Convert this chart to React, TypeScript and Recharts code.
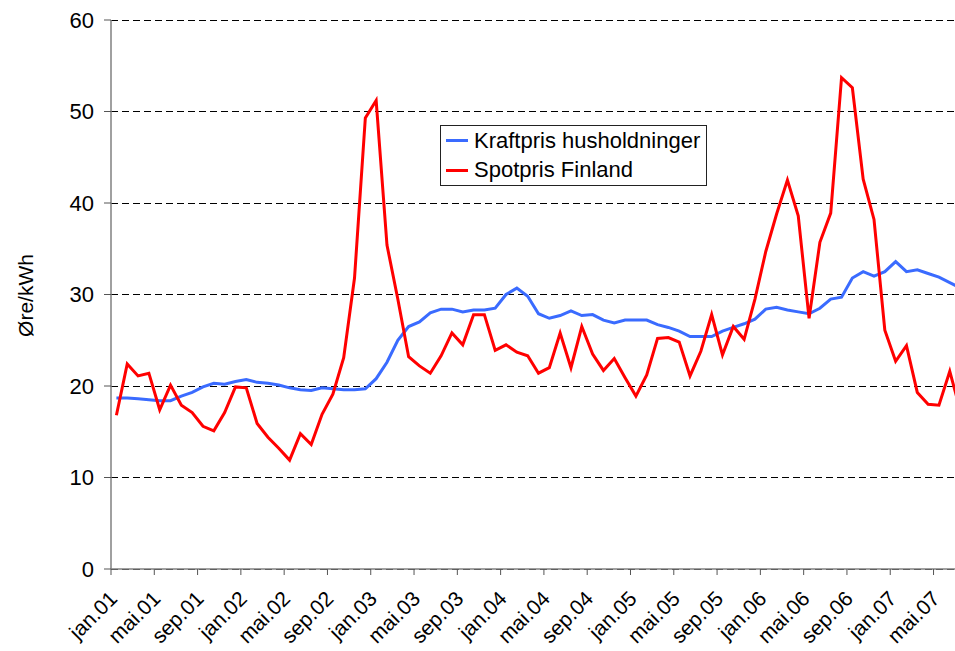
import React from 'react';
import { LineChart, Line, XAxis, YAxis, CartesianGrid, Legend } from 'recharts';

const categories = [
  'jan.01','feb.01','mar.01','apr.01','mai.01','jun.01','jul.01','aug.01','sep.01','okt.01','nov.01','des.01',
  'jan.02','feb.02','mar.02','apr.02','mai.02','jun.02','jul.02','aug.02','sep.02','okt.02','nov.02','des.02',
  'jan.03','feb.03','mar.03','apr.03','mai.03','jun.03','jul.03','aug.03','sep.03','okt.03','nov.03','des.03',
  'jan.04','feb.04','mar.04','apr.04','mai.04','jun.04','jul.04','aug.04','sep.04','okt.04','nov.04','des.04',
  'jan.05','feb.05','mar.05','apr.05','mai.05','jun.05','jul.05','aug.05','sep.05','okt.05','nov.05','des.05',
  'jan.06','feb.06','mar.06','apr.06','mai.06','jun.06','jul.06','aug.06','sep.06','okt.06','nov.06','des.06',
  'jan.07','feb.07','mar.07','apr.07','mai.07','jun.07','jul.07',
];

const kraftprisHusholdninger = [
  18.7, 18.7, 18.6, 18.5, 18.4, 18.4, 18.9, 19.3, 19.9, 20.3, 20.2, 20.5,
  20.7, 20.4, 20.3, 20.1, 19.8, 19.6, 19.5, 19.8, 19.7, 19.6, 19.6, 19.7,
  20.8, 22.6, 25.0, 26.5, 27.0, 28.0, 28.4, 28.4, 28.1, 28.3, 28.3, 28.5,
  30.0, 30.7, 29.8, 27.9, 27.4, 27.7, 28.2, 27.7, 27.8, 27.2, 26.9, 27.2,
  27.2, 27.2, 26.7, 26.4, 26.0, 25.4, 25.4, 25.4, 26.0, 26.4, 26.8, 27.3,
  28.4, 28.6, 28.3, 28.1, 27.9, 28.5, 29.5, 29.7, 31.8, 32.5, 32.0, 32.5,
  33.6, 32.5, 32.7, 32.3, 31.9, 31.3, 30.7,
];

const spotprisFinland = [
  16.8, 22.4, 21.1, 21.4, 17.4, 20.1, 17.9, 17.1, 15.6, 15.1, 17.1, 19.9,
  19.8, 15.9, 14.4, 13.2, 11.9, 14.8, 13.6, 16.9, 19.1, 23.1, 31.8, 49.3,
  51.2, 35.4, 29.5, 23.2, 22.2, 21.4, 23.3, 25.8, 24.5, 27.8, 27.8, 23.9,
  24.5, 23.7, 23.3, 21.4, 22.0, 25.8, 22.0, 26.5, 23.5, 21.7, 23.0, 20.9,
  18.9, 21.2, 25.2, 25.3, 24.8, 21.1, 23.8, 27.8, 23.4, 26.5, 25.1, 29.5,
  34.7, 38.8, 42.5, 38.6, 27.4, 35.7, 38.9, 53.7, 52.6, 42.6, 38.2, 26.1,
  22.7, 24.4, 19.3, 18.0, 17.9, 21.6, 17.2,
];

const yTicks = [0, 10, 20, 30, 40, 50, 60];
// tick marks sit on category boundaries, one every 4 months
const xTickMarks = [-0.5, 3.5, 7.5, 11.5, 15.5, 19.5, 23.5, 27.5, 31.5, 35.5, 39.5, 43.5, 47.5, 51.5, 55.5, 59.5, 63.5, 67.5, 71.5, 75.5];

const data = categories.map((label, i) => ({
  i,
  label,
  kraft: kraftprisHusholdninger[i],
  spot: spotprisFinland[i],
}));

const FONT = '"Liberation Sans", Arial, sans-serif';
const N = categories.length;

const XTick = (props: any) => {
  const { x, y, payload, width } = props;
  const axisWidth = typeof width === 'number' ? width : 855;
  const half = axisWidth / (2 * N);
  const idx = Math.round(payload.value + 0.5);
  const label = categories[idx];
  if (!label) return null;
  const ax = x + half + 2;
  const ay = y + 23;
  return (
    <text
      x={ax}
      y={ay}
      transform={`rotate(-45 ${ax} ${ay})`}
      textAnchor="end"
      fontFamily={FONT}
      fontSize={21}
      fill="#000"
    >
      {label}
    </text>
  );
};

const YLabel = (props: any) => {
  const vb = props.viewBox || { x: 0, y: 20, width: 111, height: 549 };
  const cx = vb.x + 25;
  const cy = vb.y + vb.height / 2 + 1;
  return (
    <text
      x={cx}
      y={cy}
      transform={`rotate(-90 ${cx} ${cy})`}
      textAnchor="middle"
      dominantBaseline="central"
      fontFamily={FONT}
      fontSize={21}
      fill="#000"
    >
      Øre/kWh
    </text>
  );
};

const renderLegend = (props: any) => {
  const { payload } = props;
  return (
    <div
      style={{
        border: '1px solid #222',
        background: '#fff',
        padding: '0 0 0 5px',
        width: 267,
        height: 61,
        boxSizing: 'border-box',
        fontFamily: FONT,
        fontSize: 22,
        color: '#000',
      }}
    >
      {(payload || []).map((entry: any) => (
        <div key={entry.value} style={{ display: 'flex', alignItems: 'center', height: 29.5, whiteSpace: 'nowrap' }}>
          <span style={{ display: 'inline-block', width: 22, height: 3, background: entry.color, marginRight: 6 }} />
          <span>{entry.value}</span>
        </div>
      ))}
    </div>
  );
};

export default function App() {
  return (
    <div style={{ position: 'absolute', left: 0, top: 0, width: 955, height: 651, overflow: 'hidden', background: '#fff' }}>
      <LineChart width={966} height={651} data={data} margin={{ top: 20, right: 0, bottom: 0, left: 0 }}>
        <CartesianGrid horizontal vertical={false} stroke="#000" strokeDasharray="7 4" shapeRendering="crispEdges" />
        <XAxis
          dataKey="i"
          type="number"
          domain={[-0.5, N - 0.5]}
          allowDataOverflow
          ticks={xTickMarks}
          interval={0}
          height={82}
          tick={<XTick />}
          tickSize={6}
          axisLine={{ stroke: '#808080', strokeWidth: 1.5 }}
          tickLine={{ stroke: '#555' }}
        />
        <YAxis
          domain={[0, 60]}
          ticks={yTicks}
          interval={0}
          width={111}
          tickSize={7}
          tickMargin={10}
          axisLine={{ stroke: '#808080', strokeWidth: 1.5 }}
          tickLine={{ stroke: '#555' }}
          tick={{ fontFamily: FONT, fontSize: 22, fill: '#000' }}
          label={<YLabel />}
        />
        <Legend
          layout="vertical"
          align="center"
          verticalAlign="middle"
          content={renderLegend}
          wrapperStyle={{ left: 440, top: 125, width: 267 }}
        />
        <Line
          type="linear"
          dataKey="kraft"
          name="Kraftpris husholdninger"
          stroke="#3a6bff"
          strokeWidth={3}
          dot={false}
          isAnimationActive={false}
        />
        <Line
          type="linear"
          dataKey="spot"
          name="Spotpris Finland"
          stroke="#ff0000"
          strokeWidth={3}
          dot={false}
          isAnimationActive={false}
        />
      </LineChart>
    </div>
  );
}
